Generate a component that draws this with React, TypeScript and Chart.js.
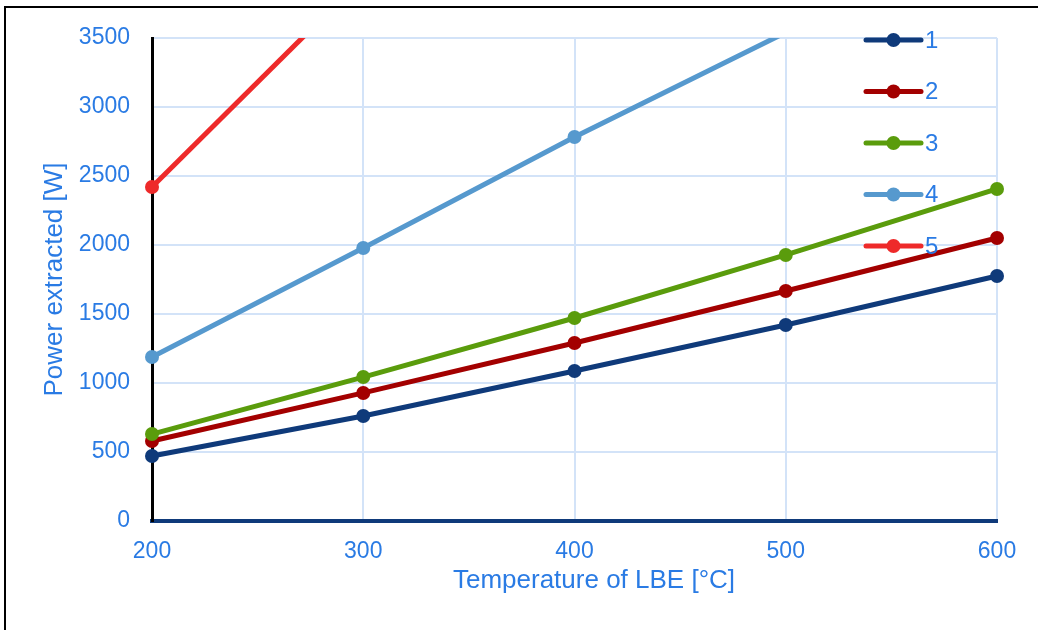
import React, { useEffect, useRef } from "react";
import { Chart, registerables } from "chart.js";

Chart.register(...registerables);

const temperatures = [200, 300, 400, 500, 600];
const seriesLabels = ["1", "2", "3", "4", "5"];
const series1 = [471, 761, 1087, 1420, 1775];
const series2 = [580, 928, 1290, 1667, 2051];
const series3 = [630, 1043, 1471, 1928, 2406];
const series4 = [1188, 1978, 2783, 3540, null];
const series5 = [2420, 3940, null, null, null];
const yTicks = [0, 500, 1000, 1500, 2000, 2500, 3000, 3500];
const xTicks = [200, 300, 400, 500, 600];

const colors = ["#0F3A7A", "#A30000", "#5A9C0C", "#5699CE", "#EE2A2A"];
const TEXT = "#2A7BE4";
const GRID = "#D3E3F8";
const FONT = "'Liberation Sans', Arial, sans-serif";
const Y_MAX = 3500;

export default function App() {
  const ref = useRef<HTMLCanvasElement | null>(null);

  useEffect(() => {
    document.body.style.margin = "0";
    const canvas = ref.current;
    if (!canvas) return;
    const all = [series1, series2, series3, series4, series5];

    const decorations = {
      id: "decorations",
      afterDatasetsDraw(chart: any) {
        const ctx = chart.ctx;
        const area = chart.chartArea;
        ctx.save();
        chart.data.datasets.forEach((ds: any, i: number) => {
          const y = area.top + 2 + i * 51.5;
          const x0 = area.right - 131;
          const x1 = area.right - 76;
          ctx.strokeStyle = ds.borderColor;
          ctx.lineWidth = 5;
          ctx.lineCap = "round";
          ctx.beginPath();
          ctx.moveTo(x0, y);
          ctx.lineTo(x1, y);
          ctx.stroke();
          ctx.fillStyle = ds.borderColor;
          ctx.beginPath();
          ctx.arc((x0 + x1) / 2, y, 7, 0, Math.PI * 2);
          ctx.fill();
          ctx.fillStyle = TEXT;
          ctx.font = `24px ${FONT}`;
          ctx.textBaseline = "middle";
          ctx.textAlign = "left";
          ctx.fillText(ds.label, x1 + 4, y + 1);
        });
        ctx.restore();
      },
      afterDraw(chart: any) {
        const ctx = chart.ctx;
        ctx.save();
        ctx.fillStyle = TEXT;
        ctx.font = `26px ${FONT}`;
        ctx.textAlign = "center";
        ctx.textBaseline = "middle";
        ctx.fillText("Temperature of LBE [°C]", 594, 581);
        ctx.strokeStyle = "#000";
        ctx.lineWidth = 2;
        ctx.beginPath();
        ctx.moveTo(5, 630);
        ctx.lineTo(5, 7);
        ctx.lineTo(1038, 7);
        ctx.stroke();
        ctx.restore();
      },
    };

    const chart = new Chart(canvas, {
      type: "line",
      data: {
        datasets: all.map((vals, i) => ({
          label: seriesLabels[i],
          data: temperatures.map((t, j) => ({ x: t, y: vals[j] as any })),
          borderColor: colors[i],
          backgroundColor: colors[i],
          borderWidth: 5,
          pointRadius: (c: any) => (c.raw && c.raw.y > Y_MAX ? 0 : 7),
          pointHoverRadius: 7,
          pointBorderWidth: 0,
          spanGaps: false,
          order: 5 - i,
          clip: { left: 12, right: 12, top: 0, bottom: 12 } as any,
        })),
      },
      options: {
        animation: false,
        responsive: false,
        layout: { padding: { left: 0, top: 38, right: 41, bottom: 0 } },
        plugins: {
          legend: { display: false },
          tooltip: { enabled: false },
        },
        scales: {
          x: {
            type: "linear",
            min: 200,
            max: 600,
            afterBuildTicks: (s: any) => {
              s.ticks = xTicks.map((v) => ({ value: v }));
            },
            afterFit: (s: any) => {
              s.height = 109;
            },
            grid: { color: GRID, lineWidth: 2, drawTicks: false },
            border: { color: "#0F3A7A", width: 4 },
            ticks: {
              color: TEXT,
              font: { family: FONT, size: 23 },
              padding: 17,
              maxRotation: 0,
              callback: (v: any) => String(v),
            },
            title: { display: false },
          },
          y: {
            type: "linear",
            min: 0,
            max: Y_MAX,
            afterBuildTicks: (s: any) => {
              s.ticks = yTicks.map((v) => ({ value: v }));
            },
            afterFit: (s: any) => {
              s.width = 152;
            },
            grid: { color: GRID, lineWidth: 2, drawTicks: false },
            border: { color: "#000", width: 3 },
            ticks: {
              color: TEXT,
              font: { family: FONT, size: 23 },
              padding: 22,
              callback: (v: any) => String(v),
            },
            title: {
              display: true,
              text: "Power extracted [W]",
              color: TEXT,
              font: { family: FONT, size: 26 },
              padding: { top: 39, bottom: 0 },
            },
          },
        },
      },
      plugins: [decorations],
    });
    return () => chart.destroy();
  }, []);

  return (
    <div style={{ width: 1038, height: 630, background: "#fff" }}>
      <canvas ref={ref} width={1038} height={630} />
    </div>
  );
}
